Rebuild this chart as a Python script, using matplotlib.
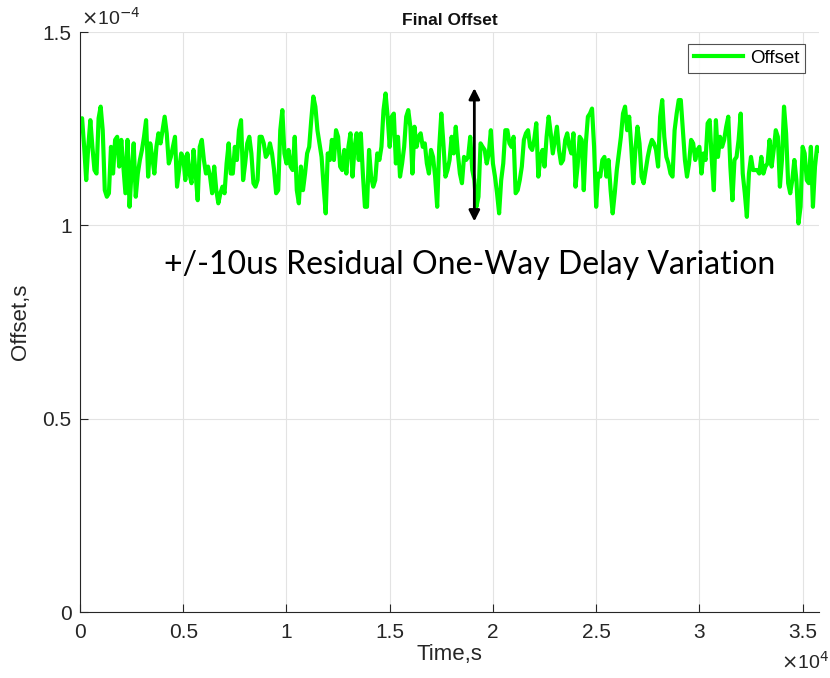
import matplotlib
matplotlib.use("Agg")
import matplotlib.pyplot as plt
import numpy as np
from matplotlib.ticker import FuncFormatter

# Offset samples in microseconds, one every 100 s
sample_step = 100
offset_us = [
    # 0 - 5900 s
    125.5, 127.7, 120.3, 111.7, 120.3, 127.2, 120.3, 114.3, 113.4, 127.7,
    130.7, 124.6, 109.1, 107.4, 108.3, 120.3, 113.4, 122.1, 122.9, 115.2,
    122.1, 115.2, 108.3, 122.1, 104.8, 114.3, 121.2, 107.4, 113.4, 116.9,
    119.5, 122.9, 127.2, 112.6, 121.2, 117.7, 113.4, 120.3, 123.8, 121.2,
    124.6, 128.1, 123.8, 116.0, 117.7, 120.3, 122.9, 110.0, 114.3, 118.6,
    117.7, 111.7, 118.6, 113.4, 110.9, 119.5, 113.4, 106.5, 120.3, 122.1,
    # 6000 - 11900 s
    116.9, 113.4, 115.2, 112.6, 108.3, 115.2, 109.1, 105.7, 108.3, 110.0,
    108.3, 116.0, 121.2, 113.4, 113.4, 120.3, 116.9, 124.6, 127.2, 111.7,
    116.0, 121.2, 122.9, 118.6, 110.9, 110.0, 111.7, 122.9, 122.9, 121.2,
    117.7, 118.6, 121.2, 118.6, 114.3, 108.3, 109.1, 124.6, 129.8, 118.6,
    116.0, 119.5, 115.2, 114.3, 122.9, 109.1, 105.7, 115.2, 109.1, 113.4,
    118.6, 120.3, 127.2, 133.3, 130.7, 124.6, 121.2, 117.7, 110.0, 103.1,
    # 12000 - 17900 s
    118.6, 116.9, 122.1, 116.9, 124.6, 122.9, 115.2, 114.3, 119.5, 113.4,
    120.3, 123.8, 112.6, 120.3, 123.8, 116.9, 123.8, 113.4, 104.8, 104.8,
    119.5, 112.6, 110.0, 111.7, 118.6, 116.9, 120.3, 129.8, 134.1, 128.1,
    120.3, 128.1, 128.9, 116.0, 122.9, 112.6, 116.0, 120.3, 128.1, 129.8,
    125.5, 113.4, 125.5, 120.3, 122.9, 123.8, 120.3, 121.2, 116.0, 113.4,
    119.5, 117.7, 112.6, 104.8, 120.3, 128.9, 121.2, 112.6, 114.3, 116.9,
    # 18000 - 23900 s
    122.9, 118.6, 125.5, 118.6, 113.4, 110.9, 117.7, 116.9, 117.7, 122.9,
    114.3, 111.7, 104.8, 107.4, 121.2, 120.3, 119.5, 116.0, 118.6, 124.6,
    116.0, 112.6, 108.3, 103.1, 111.7, 116.0, 124.6, 124.6, 121.2, 120.3,
    122.9, 108.3, 109.1, 111.7, 115.2, 122.1, 123.8, 124.6, 120.3, 119.5,
    122.1, 126.4, 112.6, 117.7, 119.5, 115.2, 122.9, 128.1, 123.8, 118.6,
    122.1, 125.5, 119.5, 116.0, 116.9, 122.1, 123.8, 120.3, 118.6, 123.8,
    # 24000 - 29900 s
    110.0, 115.2, 122.9, 122.1, 109.1, 121.2, 128.1, 128.9, 130.2, 120.3,
    104.8, 113.4, 112.6, 116.9, 117.7, 112.6, 116.9, 109.1, 103.1, 108.3,
    114.3, 118.6, 122.9, 128.9, 130.7, 124.6, 128.1, 120.3, 110.9, 119.5,
    125.5, 121.2, 112.6, 110.9, 114.3, 117.7, 120.3, 122.1, 121.2, 119.5,
    115.2, 128.1, 132.4, 122.9, 117.7, 116.0, 113.4, 112.6, 124.6, 128.9,
    132.4, 132.4, 124.6, 116.9, 112.6, 116.0, 122.1, 121.2, 116.9, 119.5,
    # 30000 - 35800 s
    120.3, 113.4, 118.6, 116.9, 126.4, 127.2, 116.9, 109.1, 127.2, 117.7,
    122.9, 120.3, 122.1, 125.5, 128.1, 115.2, 106.5, 116.9, 117.7, 122.1,
    128.9, 113.4, 108.3, 102.2, 113.4, 117.7, 114.3, 114.3, 114.3, 113.4,
    117.7, 113.4, 115.2, 116.0, 122.1, 115.2, 119.5, 124.6, 122.9, 110.0,
    116.9, 130.7, 123.8, 110.9, 108.3, 111.7, 116.9, 111.7, 100.5, 104.8,
    120.3, 118.6, 111.7, 110.9, 120.3, 104.8, 115.2, 120.3, 119.5,
]
x_ticks = [0, 5000, 10000, 15000, 20000, 25000, 30000, 35000]
y_ticks = [0, 0.5e-4, 1.0e-4, 1.5e-4]

# Residual variation marker
arrow_time = 19100
arrow_top = 1.355e-4
arrow_bottom = 1.01e-4
note = "+/-10us Residual One-Way Delay Variation"

time_s = np.arange(len(offset_us)) * sample_step
offset_s = np.array(offset_us) * 1e-6

plt.rcParams["font.family"] = ["Liberation Sans", "DejaVu Sans"]

fig = plt.figure(figsize=(8.30, 6.78), dpi=100)
ax = fig.add_axes([0.0964, 0.0973, 0.8905, 0.8555])

ax.plot(time_s, offset_s, color="#00ff00", lw=3.0, label="Offset")

ax.set_xlim(time_s[0], time_s[-1])
ax.set_ylim(0, 1.5e-4)
ax.set_xticks(x_ticks)
ax.set_yticks(y_ticks)
ax.xaxis.set_major_formatter(FuncFormatter(lambda v, p: f"{v / 1e4:g}"))
ax.yaxis.set_major_formatter(FuncFormatter(lambda v, p: f"{v / 1e-4:g}"))
ax.tick_params(direction="in", length=6, width=0.8, labelsize=15,
               colors="#262626")
ax.tick_params(axis="x", pad=8)
ax.tick_params(axis="y", pad=6)
ax.grid(True, color="#e3e3e3", lw=0.8)
ax.set_axisbelow(True)
for side in ("top", "right"):
    ax.spines[side].set_visible(False)
for side in ("left", "bottom"):
    ax.spines[side].set_color("#262626")
    ax.spines[side].set_linewidth(0.8)

ax.set_title("Final Offset", fontsize=12.5, fontweight="bold", pad=5,
             color="#111111")
ax.set_xlabel("Time,s", fontsize=16, color="#262626", labelpad=1)
ax.set_ylabel("Offset,s", fontsize=16, color="#262626", labelpad=8)

fig.text(0.098, 0.958, r"$\times$10$^{-4}$", fontsize=14, color="#262626",
         va="bottom", ha="left")
fig.text(0.999, 0.008, r"$\times$10$^{4}$", fontsize=14, color="#262626",
         va="bottom", ha="right")

leg = ax.legend(loc="upper right", fontsize=13.5, frameon=True, fancybox=False,
                handlelength=2.6, handletextpad=0.4, borderpad=0.3,
                borderaxespad=0, bbox_to_anchor=(0.981, 0.979))
leg.get_frame().set_edgecolor("#262626")
leg.get_frame().set_linewidth(0.8)

ax.annotate("", xy=(arrow_time, arrow_top), xytext=(arrow_time, arrow_bottom),
            arrowprops=dict(arrowstyle="<|-|>", color="black", lw=2,
                            mutation_scale=16, shrinkA=0, shrinkB=0))
ax.text(0.566, 0.609, note, transform=fig.transFigure, fontsize=23,
        family=["Lato", "DejaVu Sans"], ha="center", va="center", color="black")

fig.savefig("out.png", dpi=100)
